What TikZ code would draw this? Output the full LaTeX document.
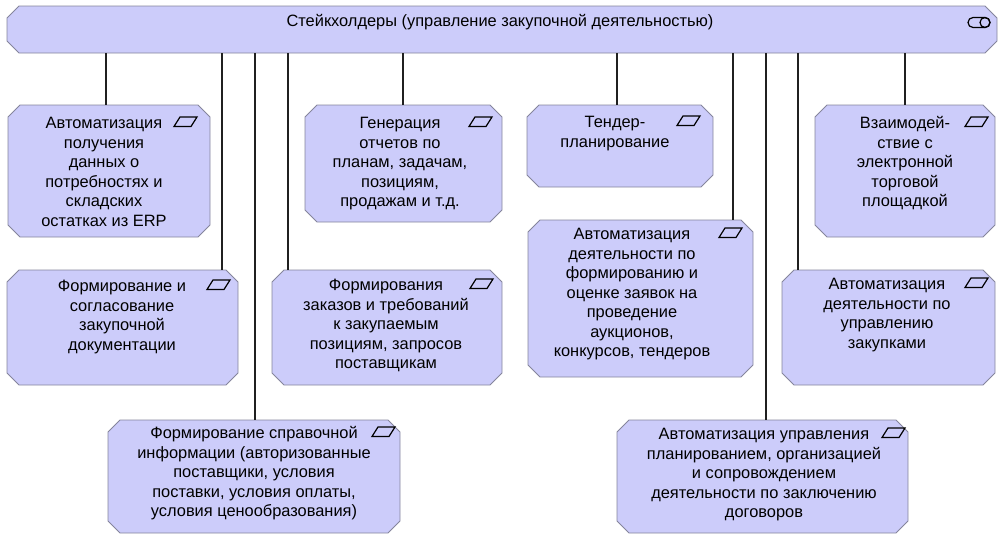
\documentclass[tikz,border=0pt]{standalone}
\usepackage{fontspec}
\setmainfont{Liberation Sans}
\definecolor{fnfill}{HTML}{CCCCFA}
\definecolor{fnborder}{HTML}{85859C}
\definecolor{lnk}{HTML}{202020}
\tikzset{
  fnshape/.style={fill=fnfill, draw=fnborder, line width=0.9pt, line join=miter},
  fnanchor/.style={inner sep=0pt, outer sep=0pt, draw=none},
  fntext/.style={inner sep=0pt, outer sep=0pt, align=center, anchor=north,
     font=\fontsize{16.4}{19.5}\selectfont, text=black},
  fnicon/.style={draw=black, line width=1.2pt, line join=miter},
  conn/.style={draw=lnk, line width=1.1pt}
}
% name, x1, y1, x2, y2, d (cap top offset), icon right x, text centre x, text
\newcommand{\funcbox}[9]{%
  \node[fnanchor, minimum width={(#4-#2)*1pt}, minimum height={(#5-#3)*1pt}] (#1) at ({(#2+#4)/2},{(#3+#5)/2}) {};
  \path[fnshape] ([xshift=12pt]#1.north west) -- ([xshift=-12pt]#1.north east) -- ([yshift=-12pt]#1.north east)
     -- ([yshift=12pt]#1.south east) -- ([xshift=-12pt]#1.south east) -- ([xshift=12pt]#1.south west)
     -- ([yshift=12pt]#1.south west) -- ([yshift=-12pt]#1.north west) -- cycle;
  \node[fntext] (#1t) at (#8,{#3+#6-4.2}) {\rule{0pt}{16pt}#9};
  \draw[fnicon] (#7-23,#3+#6+9.5) -- (#7-6,#3+#6+9.5) -- (#7,#3+#6) -- (#7-17,#3+#6) -- cycle;
}
\begin{document}
\begin{tikzpicture}[x=1pt,y=-1pt]
\useasboundingbox (0,0) rectangle (1004,542);
% top bar
\node[fnanchor, minimum width=990pt, minimum height=47pt] (bar) at (502,29.5) {};
\path[fnshape] ([xshift=12pt]bar.north west) -- ([xshift=-12pt]bar.north east) -- ([yshift=-12pt]bar.north east)
   -- ([yshift=12pt]bar.south east) -- ([xshift=-12pt]bar.south east) -- ([xshift=12pt]bar.south west)
   -- ([yshift=12pt]bar.south west) -- ([yshift=-12pt]bar.north west) -- cycle;
\node[fntext] (bart) at (500,10.8) {\rule{0pt}{16pt}Стейкхолдеры (управление закупочной деятельностью)};
\draw[fnicon, rounded corners=5pt] (968,17.5) rectangle (990,27.5);
\draw[fnicon] (985,22.5) circle (5pt);

\funcbox{b1}{8}{105}{210}{237}{12}{197}{104}{Автоматизация\\получения\\данных о\\потребностях и\\складских\\остатках из ERP}
\funcbox{b2}{7}{270}{238}{385}{10}{230}{122}{Формирование и\\согласование\\закупочной\\документации}
\funcbox{b3}{108}{420}{400}{533}{7}{395}{254}{Формирование справочной\\информации (авторизованные\\поставщики, условия\\поставки, условия оплаты,\\условия ценообразования)}
\funcbox{b4}{305}{105}{502}{222}{12}{492}{400}{Генерация\\отчетов по\\планам, задачам,\\позициям,\\продажам и т.д.}
\funcbox{b5}{272}{270}{502}{385}{9}{493}{386}{Формирования\\заказов и требований\\к закупаемым\\позициям, запросов\\поставщикам}
\funcbox{b6}{527}{105}{713}{187}{11}{700}{615}{Тендер-\\планирование}
\funcbox{b7}{528}{220}{753}{377}{8}{742}{632}{Автоматизация\\деятельности по\\формированию и\\оценке заявок на\\проведение\\аукционов,\\конкурсов, тендеров}
\funcbox{b8}{617}{420}{908}{533}{8}{905}{764}{Автоматизация управления\\планированием, организацией\\и сопровождением\\деятельности по заключению\\договоров}
\funcbox{b9}{815}{105}{995}{237}{12}{988}{905}{Взаимодей-\\ствие с\\электронной\\торговой\\площадкой}
\funcbox{b10}{782}{270}{995}{385}{8}{988}{887}{Автоматизация\\деятельности по\\управлению\\закупками}

% connectors
\coordinate (c1) at (106,105);
\coordinate (c2) at (222,270);
\coordinate (c3) at (255,420);
\coordinate (c4) at (403,105);
\coordinate (c5) at (288,270);
\coordinate (c6) at (617,105);
\coordinate (c7) at (733,220);
\coordinate (c8) at (766,420);
\coordinate (c9) at (905,105);
\coordinate (c10) at (798,270);
\foreach \i in {1,...,10} {
  \draw[conn] (bar.south -| c\i) -- (b\i.north -| c\i);
}
\end{tikzpicture}
\end{document}
